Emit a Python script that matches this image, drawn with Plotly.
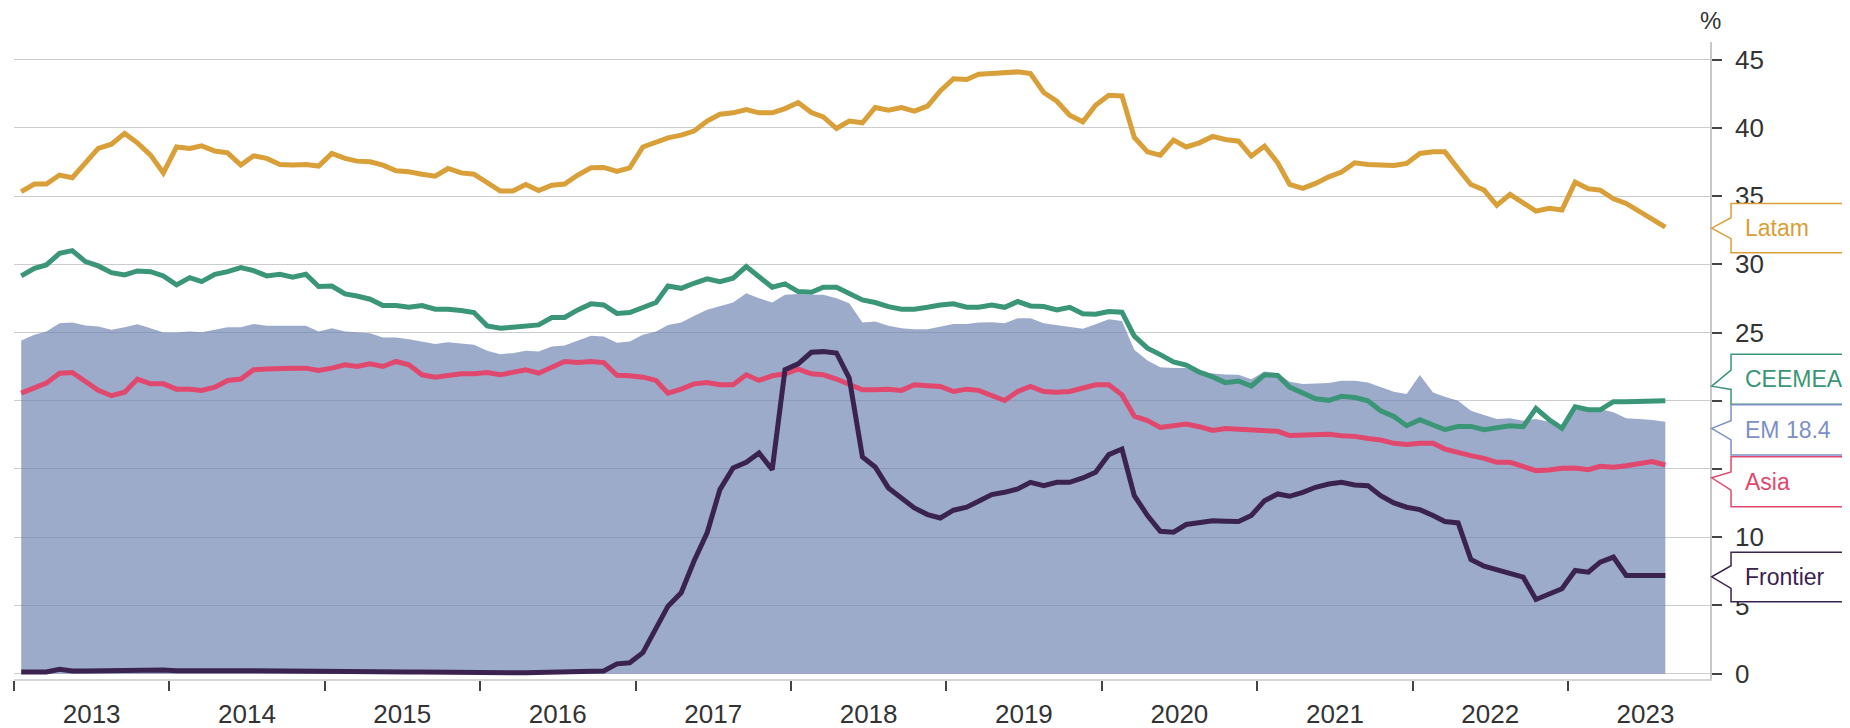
import pandas as pd
import plotly.graph_objects as go

# ---------------- data (monthly, Jan 2013 - Aug 2023) ----------------
months = pd.date_range(start="2013-01-01", periods=128, freq="MS") + pd.Timedelta(days=17)

latam = [35.32, 35.88, 35.88, 36.54, 36.34, 37.44, 38.49, 38.8, 39.59, 38.9, 38.0, 36.7,
         38.6, 38.49, 38.68, 38.3, 38.17, 37.27, 37.95, 37.76, 37.32, 37.27, 37.32, 37.2,
         38.12, 37.76, 37.56, 37.51, 37.27, 36.85, 36.78, 36.6, 36.46, 37.02, 36.7, 36.6,
         35.98, 35.37, 35.37, 35.85, 35.4, 35.8, 35.88, 36.54, 37.07, 37.1, 36.8, 37.07,
         38.6, 38.98, 39.27, 39.46, 39.76, 40.5, 41.0, 41.1, 41.34, 41.1, 41.1, 41.41,
         41.85, 41.12, 40.8, 39.95, 40.5, 40.37, 41.49, 41.29, 41.49, 41.22, 41.59, 42.7,
         43.6, 43.54, 43.93, 43.98, 44.02, 44.1, 43.98, 42.59, 41.95, 40.93, 40.44, 41.66,
         42.39, 42.34, 39.3, 38.24, 38.0, 39.1, 38.6, 38.9, 39.37, 39.15, 39.02, 37.93,
         38.66, 37.44, 35.85, 35.56, 35.93, 36.41, 36.76, 37.44, 37.32, 37.32, 37.24, 37.39,
         38.12, 38.24, 38.24, 37.0, 35.85, 35.44, 34.32, 35.12, 34.51, 33.9, 34.1, 33.98,
         36.02, 35.54, 35.44, 34.8, 34.46, 33.9, 33.34, 32.73]

ceemea = [29.15, 29.71, 29.95, 30.8, 31.0, 30.2, 29.88, 29.39, 29.22, 29.51, 29.46, 29.15,
          28.49, 29.02, 28.73, 29.27, 29.46, 29.76, 29.54, 29.15, 29.27, 29.05, 29.27, 28.37,
          28.41, 27.83, 27.68, 27.44, 26.98, 26.98, 26.85, 26.98, 26.71, 26.71, 26.61, 26.46,
          25.49, 25.32, 25.39, 25.44, 25.56, 26.1, 26.1, 26.66, 27.1, 27.02, 26.4, 26.46,
          26.85, 27.2, 28.41, 28.24, 28.61, 28.93, 28.73, 28.98, 29.83, 29.1, 28.32, 28.56,
          28.0, 27.95, 28.32, 28.32, 27.88, 27.39, 27.2, 26.9, 26.71, 26.71, 26.85, 27.02,
          27.1, 26.85, 26.85, 27.02, 26.85, 27.27, 26.95, 26.9, 26.66, 26.85, 26.37, 26.34,
          26.54, 26.49, 24.73, 23.85, 23.38, 22.85, 22.62, 22.1, 21.75, 21.33, 21.45, 21.08,
          21.9, 21.85, 21.0, 20.58, 20.14, 20.03, 20.33, 20.24, 20.0, 19.27, 18.85, 18.17,
          18.61, 18.22, 17.88, 18.12, 18.12, 17.88, 18.05, 18.17, 18.1, 19.44, 18.61, 17.98,
          19.56, 19.34, 19.34, 19.93, 19.93, 19.93, 19.93, 20.0]

em = [24.41, 24.83, 25.07, 25.68, 25.73, 25.51, 25.44, 25.2, 25.39, 25.61, 25.32, 25.0,
      25.0, 25.07, 25.02, 25.2, 25.39, 25.39, 25.63, 25.49, 25.49, 25.44, 25.49, 25.07,
      25.32, 25.07, 25.0, 24.95, 24.63, 24.63, 24.51, 24.34, 24.15, 24.29, 24.22, 24.1,
      23.66, 23.41, 23.49, 23.66, 23.61, 23.98, 24.05, 24.41, 24.76, 24.71, 24.25, 24.34,
      24.83, 25.07, 25.56, 25.73, 26.22, 26.66, 26.95, 27.2, 27.88, 27.51, 27.2, 27.76,
      27.83, 27.76, 27.76, 27.51, 27.15, 25.73, 25.8, 25.49, 25.32, 25.24, 25.24, 25.44,
      25.63, 25.63, 25.73, 25.76, 25.68, 26.05, 26.05, 25.68, 25.56, 25.44, 25.27, 25.61,
      25.98, 25.85, 23.73, 22.95, 22.45, 22.4, 22.4, 22.15, 22.0, 21.92, 21.9, 21.57,
      22.15, 22.0, 21.4, 21.22, 21.25, 21.3, 21.46, 21.46, 21.34, 20.98, 20.66, 20.49,
      21.88, 20.61, 20.29, 20.0, 19.27, 18.95, 18.66, 18.71, 18.54, 18.66, 18.46, 18.17,
      19.34, 19.27, 19.39, 19.15, 18.71, 18.66, 18.59, 18.46]

asia = [20.56, 20.93, 21.29, 22.02, 22.07, 21.41, 20.76, 20.37, 20.63, 21.59, 21.24, 21.24,
        20.85, 20.85, 20.76, 21.0, 21.49, 21.59, 22.27, 22.32, 22.39, 22.39, 22.39, 22.22,
        22.39, 22.63, 22.51, 22.71, 22.51, 22.88, 22.63, 21.9, 21.73, 21.83, 21.98, 21.98,
        22.07, 21.9, 22.07, 22.27, 22.02, 22.46, 22.88, 22.8, 22.88, 22.8, 21.87, 21.83,
        21.73, 21.49, 20.56, 20.85, 21.24, 21.34, 21.17, 21.17, 21.9, 21.49, 21.83, 21.98,
        22.32, 21.98, 21.9, 21.59, 21.24, 20.8, 20.8, 20.85, 20.76, 21.17, 21.1, 21.05,
        20.68, 20.85, 20.76, 20.37, 20.02, 20.68, 21.05, 20.68, 20.63, 20.68, 20.93, 21.17,
        21.17, 20.43, 18.87, 18.55, 18.05, 18.2, 18.3, 18.1, 17.82, 17.96, 17.93, 17.85,
        17.8, 17.76, 17.45, 17.49, 17.49, 17.54, 17.44, 17.39, 17.24, 17.12, 16.88, 16.8,
        16.88, 16.88, 16.46, 16.17, 15.98, 15.78, 15.49, 15.49, 15.2, 14.88, 14.93, 15.05,
        15.07, 14.95, 15.2, 15.12, 15.24, 15.37, 15.54, 15.29]

frontier = [0.12, 0.12, 0.12, 0.32, 0.2, 0.2, 0.22, 0.25, 0.27, 0.27, 0.27, 0.27,
            0.22, 0.2, 0.2, 0.2, 0.22, 0.22, 0.22, 0.22, 0.22, 0.22, 0.22, 0.2,
            0.17, 0.15, 0.15, 0.15, 0.15, 0.15, 0.13, 0.12, 0.1, 0.1, 0.1, 0.08,
            0.07, 0.07, 0.07, 0.07, 0.08, 0.1, 0.1, 0.12, 0.15, 0.2, 0.72, 0.8,
            1.54, 3.24, 4.95, 5.93, 8.24, 10.32, 13.49, 15.07, 15.49, 16.17, 14.95, 22.27,
            22.71, 23.55, 23.6, 23.5, 21.66, 15.88, 15.15, 13.61, 12.88, 12.15, 11.66, 11.41,
            11.98, 12.2, 12.63, 13.12, 13.29, 13.54, 14.02, 13.78, 14.02, 14.02, 14.34, 14.76,
            16.05, 16.46, 13.05, 11.59, 10.44, 10.37, 10.93, 11.08, 11.2, 11.17, 11.15, 11.59,
            12.68, 13.17, 13.0, 13.29, 13.66, 13.9, 14.02, 13.83, 13.78, 13.05, 12.51, 12.2,
            12.02, 11.59, 11.15, 11.05, 8.37, 7.88, 7.63, 7.32, 7.07, 5.44, 5.8, 6.22,
            7.56, 7.44, 8.17, 8.54, 7.2, 7.24, 7.2, 7.2]

y_ticks = [0, 5, 10, 15, 20, 25, 30, 35, 40, 45]
# 15 and 20 sit fully behind the Asia / CEEMEA / EM callout boxes in the original
y_ticktext = ["0", "5", "10", "", "", "25", "30", "35", "40", "45"]
em_label = "EM 18.4"

# ---------------- styles ----------------
C_LATAM = "#D99F38"
C_CEEMEA = "#3A9676"
C_ASIA = "#E0486E"
C_FRONTIER = "#3B2350"
C_EM_FILL = "rgba(109,130,178,0.67)"
C_EM_TEXT = "#7C90C6"
FONT = "Liberation Sans, Arial, sans-serif"
LW = 5

fig = go.Figure()
fig.add_trace(go.Scatter(x=months, y=em, mode="lines", line=dict(width=0, color=C_EM_FILL),
                         fill="tozeroy", fillcolor=C_EM_FILL, name="EM", hoverinfo="skip"))
for name, ys, col in [("Latam", latam, C_LATAM), ("CEEMEA", ceemea, C_CEEMEA),
                      ("Asia", asia, C_ASIA), ("Frontier", frontier, C_FRONTIER)]:
    fig.add_trace(go.Scatter(x=months, y=ys, mode="lines", name=name,
                             line=dict(color=col, width=LW, shape="linear")))

# ---------------- right-side callout labels ----------------
# (text, colour, box top, box bottom, notch top, pointer tip, notch bottom) in y units
callouts = [
    ("Latam", C_LATAM, 34.46, 30.84, 33.41, 32.65, 31.88),
    ("CEEMEA", C_CEEMEA, 23.40, 19.74, 22.24, 21.07, 20.83),
    (em_label, C_EM_TEXT, 19.71, 16.03, 18.54, 17.98, 17.13),
    ("Asia", C_ASIA, 15.89, 12.23, 14.79, 14.35, 13.45),
    ("Frontier", C_FRONTIER, 8.89, 5.27, 7.91, 7.10, 6.25),
]
X_BOX, X_TIP, X_FAR, X_TXT = 1.0124, 1.0010, 1.10, 1.0193
shapes = []
annotations = []
for txt, col, top, bot, up, tip, low in callouts:
    path = (f"M {X_FAR},{top} L {X_BOX},{top} L {X_BOX},{up} L {X_TIP},{tip} "
            f"L {X_BOX},{low} L {X_BOX},{bot} L {X_FAR},{bot} Z")
    shapes.append(dict(type="path", path=path, xref="paper", yref="y",
                       fillcolor="white", line=dict(color=col, width=1.5), layer="above"))
    annotations.append(dict(text=txt, x=X_TXT, y=(top + bot) / 2, xref="paper", yref="y",
                            xanchor="left", yanchor="middle", showarrow=False,
                            font=dict(family=FONT, size=23, color=col)))

annotations.append(dict(text="%", x=1.0, y=1.033, xref="paper", yref="paper",
                        xanchor="center", yanchor="middle", showarrow=False,
                        font=dict(family=FONT, size=24, color="#333333")))

# the page body adds an 8px offset, so the figure is 8px smaller and margins shifted
fig.update_layout(
    width=1842, height=720,
    margin=dict(l=6, r=140, t=34, b=49, autoexpand=False),
    paper_bgcolor="white", plot_bgcolor="white",
    showlegend=False,
    font=dict(family=FONT, size=26, color="#333333"),
    shapes=shapes, annotations=annotations,
    xaxis=dict(type="date", range=["2013-01-01", "2023-12-01"],
               tick0="2013-01-01", dtick="M12", ticklabelmode="period", tickformat="%Y",
               ticks="outside", ticklen=10, tickwidth=1.5, tickcolor="#444444",
               showline=True, linecolor="#d6d6d6", linewidth=2,
               showgrid=False, zeroline=False,
               tickfont=dict(family=FONT, size=26, color="#333333"), ticklabelstandoff=1),
    yaxis=dict(side="right", range=[-0.39, 46.29], tickmode="array", tickvals=y_ticks,
               ticktext=y_ticktext,
               ticks="outside", ticklen=10, tickwidth=1.5, tickcolor="#444444",
               showline=True, linecolor="#c8c8c8", linewidth=1.5,
               showgrid=True, gridcolor="#cccccc", gridwidth=1.2, zeroline=False,
               tickfont=dict(family=FONT, size=26, color="#333333"), ticklabelstandoff=8),
)

fig.write_html("out.html")
